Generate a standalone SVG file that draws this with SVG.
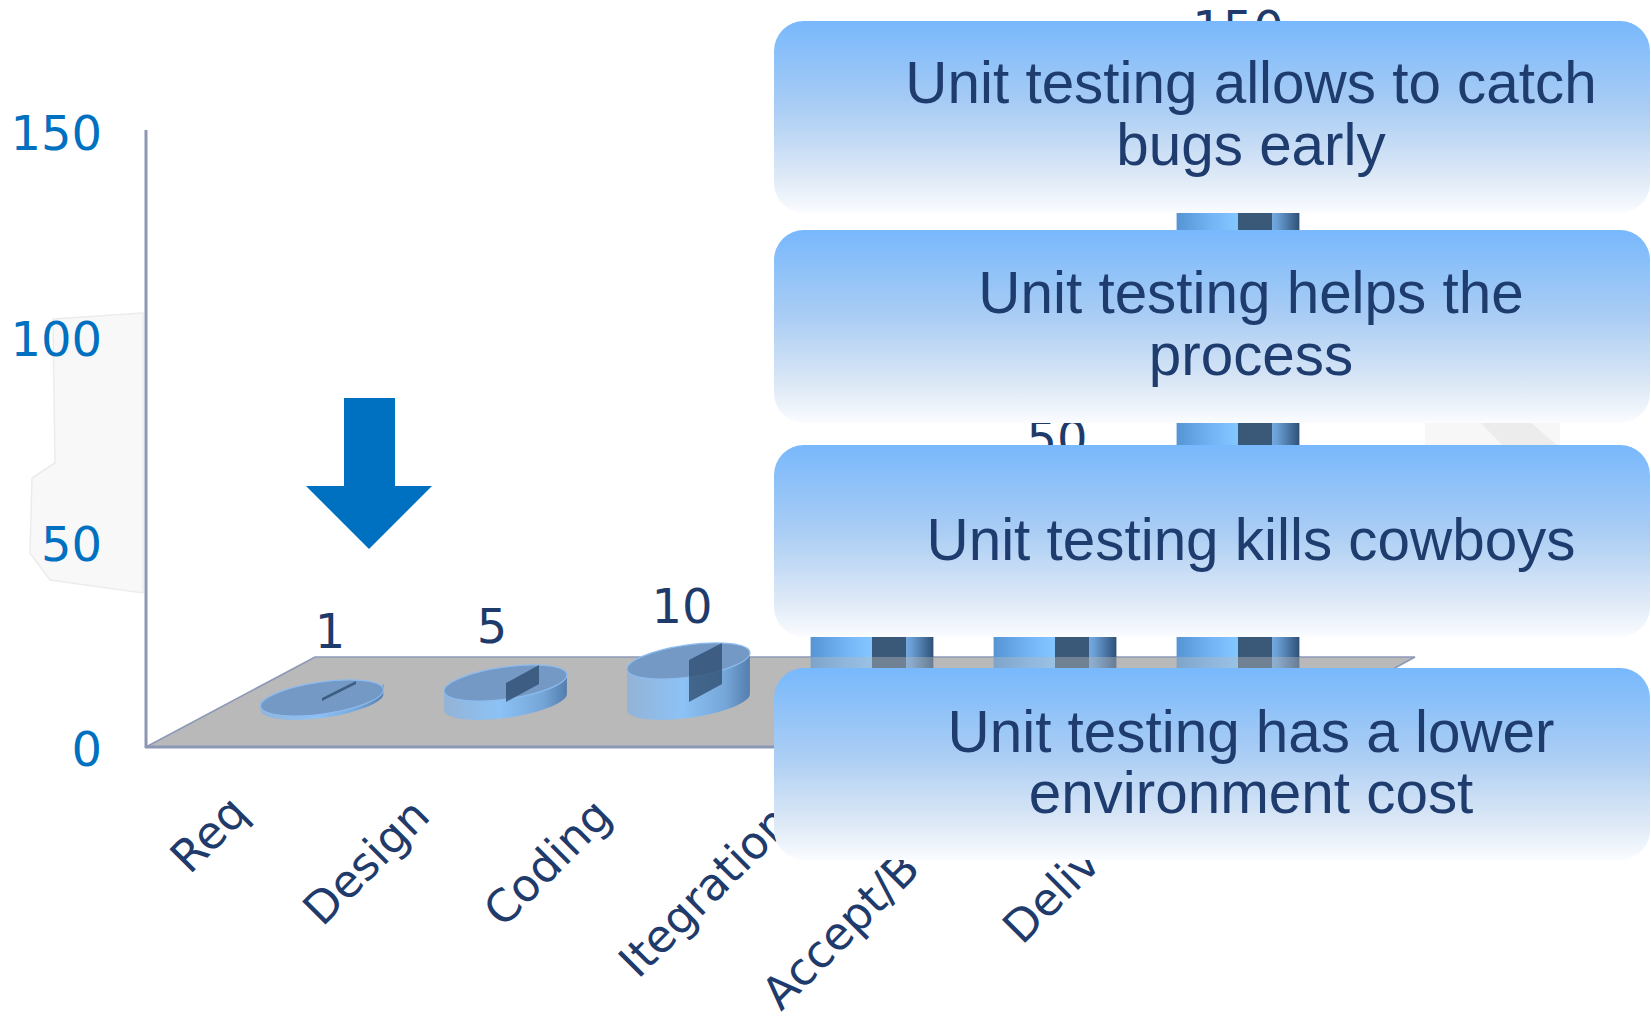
<svg xmlns="http://www.w3.org/2000/svg" width="1651" height="1020" viewBox="0 0 1651 1020">
<defs>
<style>
.ylab{font-family:"DejaVu Sans","Verdana",sans-serif;font-size:48px;fill:#0070C0;text-anchor:end}
.dlab{font-family:"DejaVu Sans","Verdana",sans-serif;font-size:48px;fill:#1F3B6B;text-anchor:middle}
.xlab{font-family:"DejaVu Sans","Verdana",sans-serif;font-size:45px;fill:#1F3B6B}
.btxt{font-family:"Liberation Sans","Arial",sans-serif;font-size:58.4px;fill:#1F3C6E;text-anchor:middle}
.box{fill:url(#boxGrad)}
.dark{fill:#2E4D70;opacity:0.78}
.dtop{fill:#7499C5;stroke:#8CBBF0;stroke-width:1.2}
.dside{fill:url(#discGrad)}
.bside{fill:url(#barGrad)}
</style>
<linearGradient id="boxGrad" x1="0" y1="0" x2="0" y2="1">
<stop offset="0" stop-color="#78B8FC"/>
<stop offset="0.45" stop-color="#AACDF4"/>
<stop offset="0.8" stop-color="#DCE8F6"/>
<stop offset="1" stop-color="#FAFCFF"/>
</linearGradient>
<linearGradient id="discGrad" x1="0" y1="0" x2="1" y2="0">
<stop offset="0" stop-color="#93B3D6"/>
<stop offset="0.45" stop-color="#8CC2F6"/>
<stop offset="0.8" stop-color="#76A6D8"/>
<stop offset="1" stop-color="#537EAE"/>
</linearGradient>
<linearGradient id="barGrad" x1="0" y1="0" x2="1" y2="0">
<stop offset="0" stop-color="#5694D4"/>
<stop offset="0.3" stop-color="#74B6F6"/>
<stop offset="0.48" stop-color="#82C6FF"/>
<stop offset="0.76" stop-color="#78AEE6"/>
<stop offset="0.82" stop-color="#6A9ED4"/>
<stop offset="1" stop-color="#2E5076"/>
</linearGradient>
</defs>

<rect width="1651" height="1020" fill="#FFFFFF"/>

<g id="background-shapes">
<polygon points="143,313 53,319 55,463 32,478 30,553 50,580 143,593" fill="#F8F8F8" stroke="#ECECEC" stroke-width="1.5"/>
<polygon points="1425,400 1560,400 1560,470 1425,470" fill="#F7F7F7"/>
<polygon points="1476,418 1526,418 1560,448 1505,448" fill="#ECECEC"/>
</g>

<g id="floor">
<polygon points="146,747 315,657 1415,657 1246,747" fill="#B9B9B9"/>
<polyline points="146,747 315,657 1415,657 1393,669" fill="none" stroke="#8D99B6" stroke-width="1.6"/>
</g>

<g id="axes">
<line x1="146" y1="130" x2="146" y2="748" stroke="#8B97B5" stroke-width="3"/>
<line x1="145" y1="747" x2="1246" y2="747" stroke="#8B97B5" stroke-width="3"/>
<text class="ylab" x="102" y="150">150</text>
<text class="ylab" x="102" y="356">100</text>
<text class="ylab" x="102" y="561">50</text>
<text class="ylab" x="102" y="766">0</text>
</g>

<g id="bar-req">
<path class="dside" d="M260.6,699.6 L260.6,710.6 A62 16 -8 0 0 383.4,693.4 L383.4,682.4 A62 16 -8 0 1 260.6,699.6 Z"/>
<ellipse class="dtop" cx="322" cy="698" rx="62" ry="16" transform="rotate(-8 322 698)"/>
<polygon class="dark" points="322,698 356,681 356,684 322,701"/>
<text class="dlab" x="330" y="648">1</text>
</g>

<g id="bar-design">
<path class="dside" d="M444.1,691.6 L444.1,710.6 A62 16 -8 0 0 566.9,693.4 L566.9,674.4 A62 16 -8 0 1 444.1,691.6 Z"/>
<ellipse class="dtop" cx="505.5" cy="683" rx="62" ry="16" transform="rotate(-8 505.5 683)"/>
<polygon class="dark" points="506,683 539,665 539,684 506,702"/>
<text class="dlab" x="492" y="643">5</text>
</g>

<g id="bar-coding">
<path class="dside" d="M627.1,669.6 L627.1,710.6 A62 16 -8 0 0 749.9,693.4 L749.9,652.4 A62 16 -8 0 1 627.1,669.6 Z"/>
<ellipse class="dtop" cx="688.5" cy="661" rx="62" ry="16" transform="rotate(-8 688.5 661)"/>
<polygon class="dark" points="689,660 722,643 722,684 689,702"/>
<text class="dlab" x="682" y="623">10</text>
</g>

<g id="bar-integration">
<path class="bside" d="M810.6,568.6 L810.6,710.6 A62 16 -8 0 0 933.4,693.4 L933.4,551.4 A62 16 -8 0 1 810.6,568.6 Z"/>
<rect x="872" y="555" width="34" height="150" fill="#3A5878"/>
<rect x="810" y="657" width="124" height="50" fill="#BBBBBB" opacity="0.42"/>
</g>

<g id="bar-accept">
<path class="bside" d="M993.6,498.6 L993.6,710.6 A62 16 -8 0 0 1116.4,693.4 L1116.4,481.4 A62 16 -8 0 1 993.6,498.6 Z"/>
<rect x="1055" y="485" width="34" height="220" fill="#3A5878"/>
<rect x="993" y="657" width="124" height="50" fill="#BBBBBB" opacity="0.42"/>
<text class="dlab" x="1057" y="455">50</text>
</g>

<g id="bar-delivery">
<path class="bside" d="M1176.6,93.6 L1176.6,710.6 A62 16 -8 0 0 1299.4,693.4 L1299.4,76.4 A62 16 -8 0 1 1176.6,93.6 Z"/>
<rect x="1238" y="80" width="34" height="625" fill="#3A5878"/>
<rect x="1176" y="657" width="124" height="50" fill="#BBBBBB" opacity="0.42"/>
<text class="dlab" x="1238" y="45">150</text>
</g>

<g id="x-labels">
<text class="xlab" text-anchor="end" transform="translate(250,815) rotate(-45)">Req</text>
<text class="xlab" text-anchor="end" transform="translate(432,818) rotate(-45)">Design</text>
<text class="xlab" text-anchor="end" transform="translate(614,818) rotate(-45)">Coding</text>
<text class="xlab" text-anchor="start" transform="translate(638,980) rotate(-45)">Itegration</text>
<text class="xlab" text-anchor="start" transform="translate(781,1012) rotate(-45)">Accept/B</text>
<text class="xlab" text-anchor="start" transform="translate(1022,946) rotate(-45)">Deliv</text>
</g>

<g id="arrow">
<polygon points="344,398 395,398 395,486 432,486 369,549 306,486 344,486" fill="#0070C0"/>
</g>

<g id="box1">
<rect class="box" x="774" y="21" width="876" height="192" rx="30" ry="30"/>
<text class="btxt" x="1251" y="103">Unit testing allows to catch</text>
<text class="btxt" x="1251" y="165">bugs early</text>
</g>

<g id="box2">
<rect class="box" x="774" y="230" width="876" height="193" rx="30" ry="30"/>
<text class="btxt" x="1251" y="313">Unit testing helps the</text>
<text class="btxt" x="1251" y="375">process</text>
</g>

<g id="box3">
<rect class="box" x="774" y="445" width="876" height="192" rx="30" ry="30"/>
<text class="btxt" x="1251" y="560">Unit testing kills cowboys</text>
</g>

<g id="box4">
<rect class="box" x="774" y="668" width="876" height="192" rx="30" ry="30"/>
<text class="btxt" x="1251" y="752">Unit testing has a lower</text>
<text class="btxt" x="1251" y="813">environment cost</text>
</g>

<g id="connectors"></g>
</svg>
